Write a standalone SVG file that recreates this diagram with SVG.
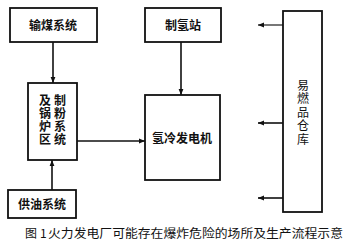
<svg xmlns="http://www.w3.org/2000/svg" width="350" height="249" viewBox="0 0 350 249">
<style>
.box{fill:#fff;stroke:#111;stroke-width:1.8}
.t{font-family:"Noto Sans CJK SC","Noto Sans",sans-serif;font-size:12px;font-weight:bold;fill:#111;text-anchor:middle}
.v{font-family:"Noto Sans CJK SC","Noto Sans",sans-serif;font-size:12px;font-weight:bold;fill:#111;text-anchor:middle;writing-mode:vertical-rl;letter-spacing:1px}
.c{font-family:"Noto Sans CJK SC","Noto Sans",sans-serif;font-size:12px;fill:#111}
.ln{stroke:#111;stroke-width:1.6;fill:none}
</style>
<defs>
<marker id="ah" viewBox="0 0 10 10" refX="10" refY="5" markerWidth="4" markerHeight="4" orient="auto" markerUnits="strokeWidth">
<path d="M0,1 L10,5 L0,9 Z" fill="#111"/>
</marker>
</defs>
<rect width="350" height="249" fill="#fff"/>
<g id="connectors">
<line class="ln" x1="53" y1="42" x2="53" y2="83" marker-end="url(#ah)"/>
<line class="ln" x1="52" y1="190" x2="52" y2="160" marker-end="url(#ah)"/>
<line class="ln" x1="77" y1="141" x2="145" y2="141" marker-end="url(#ah)"/>
<line class="ln" x1="181" y1="42" x2="181" y2="95" marker-end="url(#ah)"/>
<line class="ln" x1="283" y1="25" x2="258" y2="25" marker-end="url(#ah)" style="stroke:#555"/>
<line class="ln" x1="283" y1="123" x2="258" y2="123" marker-end="url(#ah)"/>
<line class="ln" x1="283" y1="198" x2="258" y2="198" marker-end="url(#ah)"/>
</g>
<g id="coal">
<rect class="box" x="10" y="8" width="87" height="34"/>
<text class="t" x="53" y="29.5">输煤系统</text>
</g>
<g id="hydrogen">
<rect class="box" x="145" y="8" width="76" height="34"/>
<text class="t" x="183" y="29.5">制氢站</text>
</g>
<g id="boiler">
<rect class="box" x="28" y="83" width="49" height="77"/>
<text class="v" x="60" y="120">制粉系统</text>
<text class="v" x="45" y="120">及锅炉区</text>
</g>
<g id="generator">
<rect class="box" x="145" y="95" width="75" height="85"/>
<text class="t" x="182" y="142.5">氢冷发电机</text>
</g>
<g id="oil">
<rect class="box" x="8" y="190" width="68" height="28"/>
<text class="t" x="42" y="209">供油系统</text>
</g>
<g id="warehouse">
<rect class="box" x="283" y="11" width="39" height="201"/>
<text class="v" x="303" y="113" style="letter-spacing:1.5px;font-weight:normal">易燃品仓库</text>
</g>
<text class="c" y="238"><tspan x="25">图</tspan><tspan x="40">1</tspan></text>
<text class="c" x="48" y="238" textLength="295" lengthAdjust="spacingAndGlyphs">火力发电厂可能存在爆炸危险的场所及生产流程示意</text>
</svg>
